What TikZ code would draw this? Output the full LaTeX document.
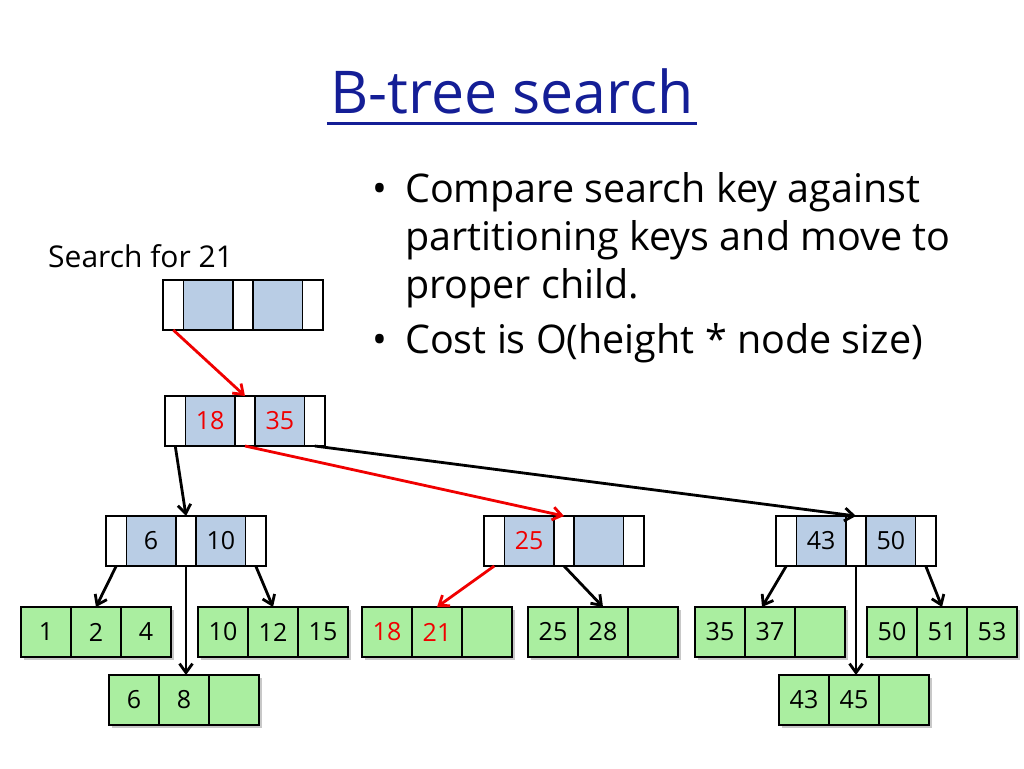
\documentclass[tikz,border=0pt]{standalone}
\usepackage{fontspec}
\setmainfont{Open Sans}
\usetikzlibrary{arrows.meta,shadows}
\definecolor{keyblue}{RGB}{185,205,229}
\definecolor{leafgreen}{RGB}{170,238,160}
\definecolor{titleblue}{RGB}{20,30,150}
\definecolor{hired}{RGB}{240,0,0}
\tikzset{
  cellbase/.style={draw=black, line width=1.6pt, minimum height=50pt, inner sep=0pt, outer sep=0pt,
    anchor=north west, font=\fontsize{25}{30}\selectfont},
  ptrcell/.style={cellbase, fill=white, minimum width=20.5pt},
  keycell/.style={cellbase, fill=keyblue, minimum width=49.25pt},
  leafcell/.style={cellbase, fill=leafgreen, minimum width=50pt,
    drop shadow={shadow xshift=2.5pt, shadow yshift=-2.5pt, opacity=0.3, fill=black!70}},
  link/.style={line width=2.8pt, -{Straight Barb[length=9pt,width=13pt]}},
  redlink/.style={link, draw=hired},
  blacklink/.style={link, draw=black},
  bodytext/.style={inner sep=0pt, anchor=base west, font=\fontsize{39.5}{45}\selectfont},
}
\newcommand\btinner[5]{%
  \node[ptrcell] (#1-p0) at (#2,#3) {};
  \node[keycell] (#1-k1) at (#1-p0.north east) {#4};
  \node[ptrcell] (#1-p1) at (#1-k1.north east) {};
  \node[keycell] (#1-k2) at (#1-p1.north east) {#5};
  \node[ptrcell] (#1-p2) at (#1-k2.north east) {};
}
\newcommand\btleaf[6]{%
  \node[leafcell] (#1-c1) at (#2,#3) {#4};
  \node[leafcell] (#1-c2) at (#1-c1.north east) {#5};
  \node[leafcell] (#1-c3) at (#1-c2.north east) {#6};
}
\begin{document}
\begin{tikzpicture}[x=1pt,y=-1pt]
\fill[white] (0,0) rectangle (1024,768);
\useasboundingbox (0,0) rectangle (1024,768);

% title
\node[inner sep=0pt, anchor=base, font=\fontsize{59}{64}\selectfont, text=titleblue] (title) at (512,113) {B-tree search};
\draw[titleblue, line width=3pt] ([xshift=-3pt,yshift=-10pt]title.base west) -- ([xshift=3pt,yshift=-10pt]title.base east);

% bullets
\node[inner sep=0pt, anchor=base, font=\fontsize{39.5}{45}\selectfont] (b1) at (380,202) {•};
\node[bodytext] (t1) at (405,202) {Compare search key against};
\node[bodytext] (t2) at (405,250) {partitioning keys and move to};
\node[bodytext] (t3) at (405,298) {proper child.};
\node[inner sep=0pt, anchor=base, font=\fontsize{39.5}{45}\selectfont] (b2) at (380,353) {•};
\node[bodytext] (t4) at (405,353) {Cost is O(height * node size)};

% label
\node[inner sep=0pt, anchor=base west, font=\fontsize{30}{34}\selectfont] (search) at (48,267) {Search for 21};

% internal nodes
\btinner{root}{163}{280}{}{}
\btinner{n2}{165}{396}{\textcolor{hired}{18}}{\textcolor{hired}{35}}
\btinner{na}{106}{516}{6}{10}
\btinner{nb}{484}{516}{\textcolor{hired}{25}}{}
\btinner{nc}{776}{516}{43}{50}

% leaves
\btleaf{l1}{21}{607}{1}{2}{4}
\btleaf{l2}{198}{607}{10}{12}{15}
\btleaf{l3}{109}{675}{6}{8}{}
\btleaf{l4}{362}{607}{\textcolor{hired}{18}}{\textcolor{hired}{21}}{}
\btleaf{l5}{528}{607}{25}{28}{}
\btleaf{l6}{695}{607}{35}{37}{}
\btleaf{l7}{867}{607}{50}{51}{53}
\btleaf{l8}{779}{675}{43}{45}{}

% connectors
\draw[redlink] (root-p0.south) -- (n2-p1.north);
\draw[blacklink] (n2-p0.south) -- (na-p1.north);
\draw[redlink] (n2-p1.south) -- (nb-p1.north);
\draw[blacklink] (n2-p2.south) -- (nc-p1.north);

\draw[blacklink] (na-p0.south) -- (l1-c2.north);
\draw[blacklink] (na-p1.south) -- (na-p1.south |- l3-c2.north);
\draw[blacklink] (na-p2.south) -- (l2-c2.north);

\draw[redlink] (nb-p0.south) -- (l4-c2.north);
\draw[blacklink] (nb-p1.south) -- (l5-c2.north);

\draw[blacklink] (nc-p0.south) -- ([xshift=-8pt]l6-c2.north);
\draw[blacklink] (nc-p1.south) -- (nc-p1.south |- l8-c2.north);
\draw[blacklink] (nc-p2.south) -- (l7-c2.north);
\end{tikzpicture}
\end{document}
